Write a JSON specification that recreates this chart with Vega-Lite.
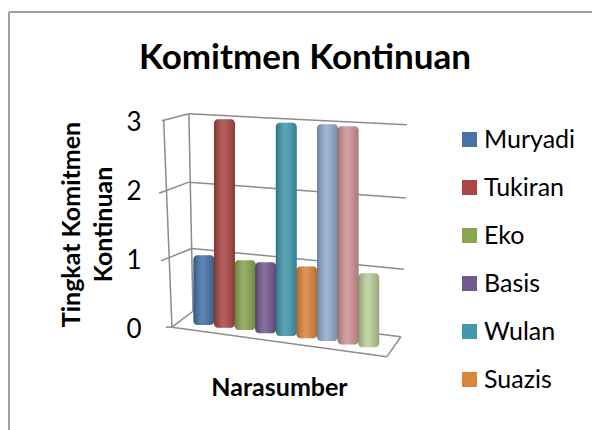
{"$schema":"https://vega.github.io/schema/vega-lite/v6.json","width":583,"height":418,"autosize":"none","padding":{"left":9,"top":12,"right":0,"bottom":0},"background":"white","config":{"view":{"stroke":null},"font":"Lato"},
"title":{"text":"Komitmen Kontinuan","font":"Lato","fontSize":35,"fontWeight":"bold","color":"#000000","anchor":"start","frame":"group","dx":130,"dy":69},
"datasets":{
"narasumber":[
{"urutan":1,"nama":"Muryadi","atas":1.04,"bawah":0.03},
{"urutan":2,"nama":"Tukiran","atas":3.01,"bawah":-0.01},
{"urutan":3,"nama":"Eko","atas":0.97,"bawah":-0.04},
{"urutan":4,"nama":"Basis","atas":0.94,"bawah":-0.09},
{"urutan":5,"nama":"Wulan","atas":2.96,"bawah":-0.13},
{"urutan":6,"nama":"Suazis","atas":0.88,"bawah":-0.16},
{"urutan":7,"nama":"Narasumber 7","atas":2.94,"bawah":-0.2},
{"urutan":8,"nama":"Narasumber 8","atas":2.91,"bawah":-0.25},
{"urutan":9,"nama":"Narasumber 9","atas":0.78,"bawah":-0.29}],
"kisi":[
{"x0":-1.04,"y0":2.99,"x1":0.27,"y1":3.09},{"x0":0.27,"y0":3.09,"x1":10.85,"y1":2.93},
{"x0":-1.18,"y0":1.94,"x1":0.27,"y1":2.10},{"x0":0.27,"y0":2.10,"x1":10.8,"y1":1.87},
{"x0":-1.09,"y0":0.96,"x1":0.42,"y1":1.14},{"x0":0.42,"y0":1.14,"x1":10.71,"y1":0.84},
{"x0":-0.95,"y0":2.99,"x1":-0.55,"y1":0},{"x0":0.27,"y0":3.09,"x1":0.47,"y1":0.23},
{"x0":-0.55,"y0":0,"x1":0.47,"y1":0.23},{"x0":0.47,"y0":0.23,"x1":10.56,"y1":-0.14},
{"x0":10.56,"y0":-0.14,"x1":9.88,"y1":-0.43},{"x0":9.88,"y0":-0.43,"x1":-0.55,"y1":0},
{"x0":-0.85,"y0":0,"x1":-0.55,"y1":0}],
"bingkai":[
{"x0":-8.46,"y0":4.565,"x1":19.84,"y1":4.565},{"x0":-8.46,"y0":4.565,"x1":-8.46,"y1":-1.49}]},
"layer":[
{"data":{"name":"bingkai"},"mark":{"type":"rule","color":"#a0a0a0","strokeWidth":2},
"encoding":{"x":{"field":"x0","type":"quantitative","scale":{"domain":[-8.46,19.84],"nice":false,"zero":false,"padding":0},"axis":{"title":"Narasumber","titleFont":"Lato","titleFontSize":25,"titleFontWeight":"bold","titleColor":"#000000","labels":false,"ticks":false,"domain":false,"grid":false,"titleX":270,"titleY":-43,"titleAlign":"center","titleBaseline":"middle"}},"y":{"field":"y0","type":"quantitative","scale":{"domain":[-1.49,4.565],"nice":false,"zero":false},"axis":{"title":["Tingkat Komitmen","Kontinuan"],"titleFont":"Lato","titleFontSize":25,"titleFontWeight":"bold","titleColor":"#000000","titleLineHeight":32,"values":[0,1,2,3],"format":"d","labelFont":"Lato","labelFontSize":26,"labelColor":"#000000","labelPadding":0,"labelOffset":2,"ticks":false,"tickSize":0,"domain":false,"grid":false,"offset":-132,"titleX":-57,"titleY":212,"titleAlign":"center"}},"x2":{"field":"x1"},"y2":{"field":"y1"}}},
{"data":{"name":"kisi"},"mark":{"type":"rule","color":"#8c8c8c","strokeWidth":1.5},
"encoding":{"x":{"field":"x0","type":"quantitative"},"y":{"field":"y0","type":"quantitative"},"x2":{"field":"x1"},"y2":{"field":"y1"}}},
{"data":{"name":"narasumber"},"mark":{"type":"bar","size":21,"cornerRadius":4},
"encoding":{"x":{"field":"urutan","type":"quantitative"},"y":{"field":"atas","type":"quantitative"},"y2":{"field":"bawah"},
"color":{"field":"nama","type":"nominal","scale":{"domain":["Muryadi","Tukiran","Eko","Basis","Wulan","Suazis","Narasumber 7","Narasumber 8","Narasumber 9"],"range":["#4572A7","#AA4643","#89A54E","#71588F","#4198AF","#DB843D","#93A9CF","#D19392","#B9CD96"]},
"legend":{"values":["Muryadi","Tukiran","Eko","Basis","Wulan","Suazis"],"title":null,"orient":"none","legendX":448,"legendY":115,"symbolType":"square","symbolSize":225,"symbolOpacity":1,"labelFont":"Lato","labelFontSize":25,"labelColor":"#000000","labelOffset":2,"rowPadding":22,"symbolStrokeWidth":0}}}},
{"data":{"name":"narasumber"},"mark":{"type":"bar","size":21,"cornerRadius":4,"fill":{"gradient":"linear","x1":0,"y1":0,"x2":1,"y2":0,"stops":[{"offset":0,"color":"rgba(0,0,0,0.25)"},{"offset":0.45,"color":"rgba(255,255,255,0.14)"},{"offset":1,"color":"rgba(0,0,0,0.18)"}]}},
"encoding":{"x":{"field":"urutan","type":"quantitative"},"y":{"field":"atas","type":"quantitative"},"y2":{"field":"bawah"}}}
]}
